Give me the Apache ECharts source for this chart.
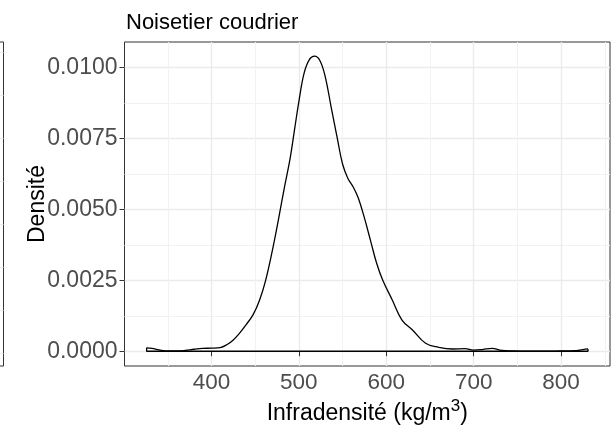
<!DOCTYPE html>
<html>
<head>
<meta charset="utf-8">
<script src="https://cdn.jsdelivr.net/npm/echarts@6/dist/echarts.min.js"></script>
<style>
  html, body { margin: 0; padding: 0; background: #fff; }
  #chart { width: 611px; height: 430px; }
</style>
</head>
<body>
<div id="chart"></div>
<script>
// density curve
var densX = [325.8, 332, 340, 350, 360, 370, 380, 390, 400, 410, 418, 425, 432, 440, 447.5, 455, 462, 470, 477, 483, 490, 495, 500, 506, 512, 518, 524, 530, 537, 544, 550, 556, 562, 568, 575, 582, 589, 596, 607, 618, 630, 645, 660, 676, 690, 700, 710, 721, 732, 745, 760, 780, 800, 815, 825, 830.8];
var densY = [0.00012, 0.0001, 0.00005, 0.00001, 0.00001, 0.00003, 0.00007, 0.0001, 0.00011, 0.00013, 0.00024, 0.0004, 0.00063, 0.00095, 0.00128, 0.0018, 0.0025, 0.0036, 0.0047, 0.0057, 0.0068, 0.0078, 0.0088, 0.0098, 0.01028, 0.0104, 0.01025, 0.0097, 0.0086, 0.0075, 0.0066, 0.0061, 0.0058, 0.0054, 0.0047, 0.0039, 0.0031, 0.0025, 0.0018, 0.0011, 0.00075, 0.00028, 0.00014, 0.00008, 0.00009, 0.00004, 0.00006, 0.0001, 0.00003, 0.00001, 0, 0, 0.00001, 0.00002, 0.00006, 0.00008];

// ticks
var xTicks = [400, 500, 600, 700, 800];
var xMinor = [350, 450, 550, 650, 750, 850];
var yTicks = [0, 0.0025, 0.005, 0.0075, 0.01];
var yMinor = [0.00125, 0.00375, 0.00625, 0.00875];
var xRange = [300.5, 856];
var yRange = [-0.00052, 0.0109];

// neighbouring panel cut off at the left edge
var leftPanelLines = [0, 1, 2, 3, 4, 5, 6, 7];

var FONT = '"Liberation Sans", Arial, sans-serif';

var curve = densX.map(function (x, i) { return [x, densY[i]]; });
var first = curve[0], last = curve[curve.length - 1];
var baseline = [[last[0], last[1]], [last[0], 0], [first[0], 0], [first[0], first[1]]];

var chart = echarts.init(document.getElementById('chart'));

var option = {
  animation: false,
  backgroundColor: '#fff',
  title: {
    text: 'Noisetier coudrier',
    left: 121,
    top: 7,
    textStyle: { fontFamily: FONT, fontSize: 22, fontWeight: 'normal', color: '#000' }
  },
  grid: [
    { left: 124.5, right: 1, top: 42, bottom: 64, show: true, borderColor: '#333333', borderWidth: 1, backgroundColor: 'transparent', outerBoundsMode: 'none' },
    { left: -300, width: 303.5, top: 42, bottom: 64, show: true, borderColor: '#333333', borderWidth: 1, backgroundColor: 'transparent', outerBoundsMode: 'none' }
  ],
  xAxis: [
    {
      type: 'value', gridIndex: 0, min: xRange[0], max: xRange[1],
      name: 'Infradensité (kg/m{sup|3})',
      nameLocation: 'middle', nameGap: 32, nameMoveOverlap: false,
      nameTextStyle: {
        fontFamily: FONT, fontSize: 23, color: '#000',
        rich: { sup: { fontFamily: FONT, fontSize: 17, color: '#000', padding: [0, 0, 15, 0] } }
      },
      axisLine: { show: false },
      axisTick: { show: true, length: 5, customValues: xTicks, lineStyle: { color: '#333333', width: 1 } },
      axisLabel: { customValues: xTicks, margin: 5, fontFamily: FONT, fontSize: 22.5, color: '#4d4d4d' },
      splitLine: { show: true, lineStyle: { color: '#ebebeb', width: 1.4 } }
    },
    {
      type: 'value', gridIndex: 0, min: xRange[0], max: xRange[1], position: 'top',
      axisLine: { show: false },
      axisTick: { show: false, customValues: xMinor },
      axisLabel: { show: false, customValues: xMinor },
      splitLine: { show: true, lineStyle: { color: '#f2f2f2', width: 1 } }
    },
    {
      type: 'value', gridIndex: 1, min: 0, max: 1,
      axisLine: { show: false }, axisTick: { show: false }, axisLabel: { show: false },
      splitLine: { show: false }
    }
  ],
  yAxis: [
    {
      type: 'value', gridIndex: 0, min: yRange[0], max: yRange[1],
      name: 'Densité',
      nameLocation: 'middle', nameGap: 75, nameRotate: 90, nameMoveOverlap: false,
      nameTextStyle: { fontFamily: FONT, fontSize: 23, color: '#000' },
      axisLine: { show: false },
      axisTick: { show: true, length: 5, customValues: yTicks, lineStyle: { color: '#333333', width: 1 } },
      axisLabel: {
        customValues: yTicks, margin: 7, fontFamily: FONT, fontSize: 23, color: '#4d4d4d',
        formatter: function (v) { return v.toFixed(4); }
      },
      splitLine: { show: true, lineStyle: { color: '#ebebeb', width: 1.4 } }
    },
    {
      type: 'value', gridIndex: 0, min: yRange[0], max: yRange[1], position: 'right',
      axisLine: { show: false },
      axisTick: { show: false, customValues: yMinor },
      axisLabel: { show: false, customValues: yMinor },
      splitLine: { show: true, lineStyle: { color: '#f2f2f2', width: 1 } }
    },
    {
      type: 'value', gridIndex: 1, min: -0.3, max: 7.23,
      axisLine: { show: false },
      axisTick: { show: false, customValues: leftPanelLines },
      axisLabel: { show: false, customValues: leftPanelLines },
      splitLine: { show: true, lineStyle: { color: '#ebebeb', width: 1 } }
    }
  ],
  series: [
    {
      name: 'density', type: 'line', xAxisIndex: 0, yAxisIndex: 0,
      data: curve, smooth: 0.4, showSymbol: false, symbol: 'none',
      lineStyle: { color: '#000', width: 1.3 }, z: 3
    },
    {
      name: 'base', type: 'line', xAxisIndex: 0, yAxisIndex: 0,
      data: baseline, smooth: false, showSymbol: false, symbol: 'none',
      lineStyle: { color: '#000', width: 1.3 }, z: 3
    }
  ]
};

chart.setOption(option);
</script>
</body>
</html>
